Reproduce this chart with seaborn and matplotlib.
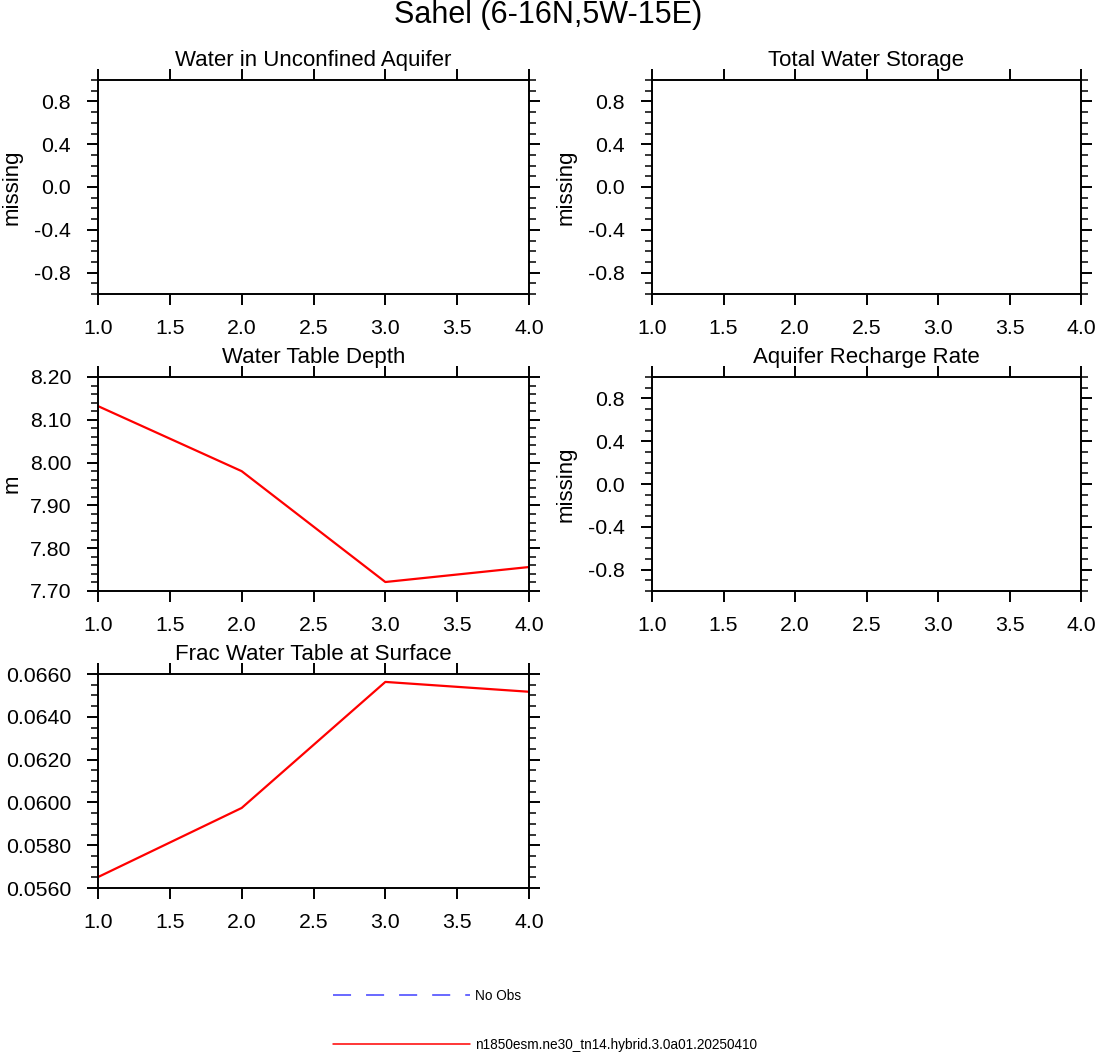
import numpy as np
import matplotlib
matplotlib.use("Agg")
import matplotlib.pyplot as plt
from matplotlib.lines import Line2D
from matplotlib.ticker import MultipleLocator, FormatStrFormatter
import seaborn as sns

# data
years = [1.0, 2.0, 3.0, 4.0]
wtd = [8.132, 7.980, 7.721, 7.756]          # Water Table Depth (m)
frac_wt = [0.05651, 0.05974, 0.06563, 0.06517]  # Frac Water Table at Surface

suptitle = "Sahel (6-16N,5W-15E)"
titles = ["Water in Unconfined Aquifer", "Total Water Storage",
          "Water Table Depth", "Aquifer Recharge Rate",
          "Frac Water Table at Surface"]
case_name = "n1850esm.ne30_tn14.hybrid.3.0a01.20250410"
obs_name = "No Obs"

sns.set_style("ticks")
plt.rcParams['font.family'] = ['Liberation Sans', 'DejaVu Sans']
plt.rcParams['axes.unicode_minus'] = False
plt.rcParams['lines.scale_dashes'] = False
plt.rcParams['text.color'] = 'black'
plt.rcParams['axes.labelcolor'] = 'black'
plt.rcParams['xtick.labelcolor'] = 'black'
plt.rcParams['ytick.labelcolor'] = 'black'

W, H = 1096, 1053
fig = plt.figure(figsize=(W / 100, H / 100), dpi=100)


def box(left, top, right, bottom):
    return [left / W, 1 - bottom / H, (right - left) / W, (bottom - top) / H]


pos = [box(98, 80, 529, 294), box(652, 80, 1081, 294),
       box(98, 377, 529, 591), box(652, 377, 1081, 591),
       box(98, 674, 529, 888)]

axes = [fig.add_axes(p) for p in pos]


def style(ax, title, ylabel, ylim, major, minor, fmt):
    ax.set_xlim(1.0, 4.0)
    ax.set_ylim(*ylim)
    ax.xaxis.set_major_locator(MultipleLocator(0.5))
    ax.xaxis.set_major_formatter(FormatStrFormatter('%.1f'))
    ax.yaxis.set_major_locator(MultipleLocator(major))
    ax.yaxis.set_minor_locator(MultipleLocator(minor))
    ax.yaxis.set_major_formatter(FormatStrFormatter(fmt))
    ax.tick_params(which='both', direction='out', top=True, right=True,
                   labeltop=False, labelright=False, color='black')
    ax.tick_params(which='major', length=8, width=1.4, labelsize=15.3)
    ax.tick_params(axis='x', which='major', pad=10)
    ax.tick_params(axis='y', which='major', pad=11.4)
    ax.tick_params(which='minor', length=5.2, width=1.1)
    ax.tick_params(axis='x', which='minor', top=False, bottom=False)
    for s in ax.spines.values():
        s.set_visible(True)
        s.set_linewidth(1.4)
        s.set_color('black')
    ax.set_title(title, fontsize=16, y=1.0, pad=10)
    ax.set_ylabel(ylabel, fontsize=16)
    ax.yaxis.set_label_coords(-0.176, 0.5)
    ax.set_xlabel('')


style(axes[0], titles[0], "missing", (-1, 1), 0.4, 0.1, '%.1f')
style(axes[1], titles[1], "missing", (-1, 1), 0.4, 0.1, '%.1f')
style(axes[3], titles[3], "missing", (-1, 1), 0.4, 0.1, '%.1f')

sns.lineplot(x=years, y=wtd, ax=axes[2], color='red', linewidth=1.6)
style(axes[2], titles[2], "m", (7.7, 8.2), 0.1, 0.02, '%.2f')

sns.lineplot(x=years, y=frac_wt, ax=axes[4], color='red', linewidth=1.6)
style(axes[4], titles[4], "", (0.056, 0.066), 0.002, 0.0005, '%.4f')

fig.suptitle(suptitle, fontsize=22, x=0.5, y=1 - 15 / H, va='center')

h_obs = Line2D([], [], color='#4040ff', linewidth=1.1, dashes=(13, 10.8))
h_case = Line2D([], [], color='red', linewidth=1.1)
for h, lab, yy in [(h_obs, obs_name, 996), (h_case, case_name, 1045)]:
    fig.legend([h], [lab], loc='center left',
               bbox_to_anchor=(333 / W, 1 - yy / H), frameon=False,
               fontsize=9.8, handlelength=10.1, handletextpad=0.3,
               borderpad=0, borderaxespad=0)

fig.savefig("out.png", dpi=100)
